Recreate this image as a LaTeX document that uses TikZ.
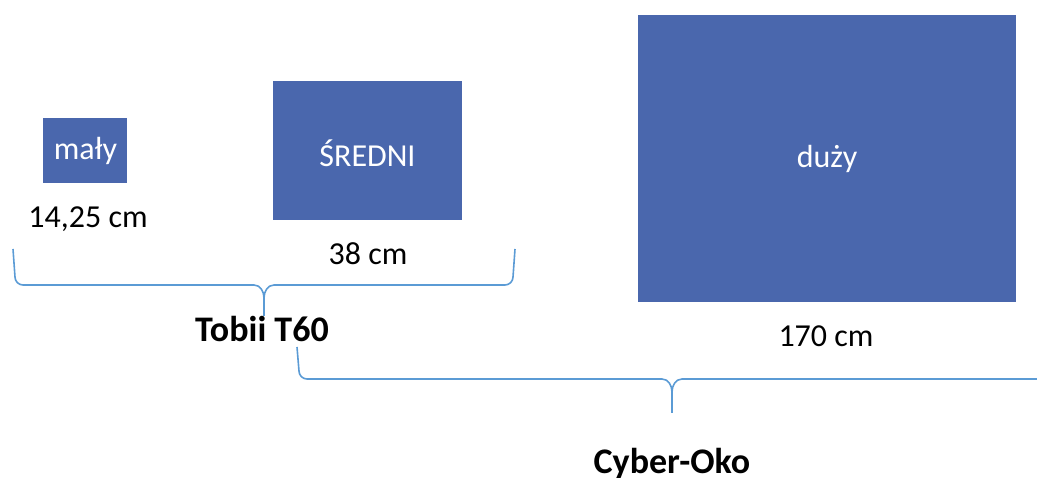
\documentclass[tikz,border=0pt]{standalone}
\usepackage{fontspec}
\setmainfont{Carlito}
\definecolor{boxblue}{HTML}{4A67AD}
\definecolor{braceblue}{HTML}{5B9BD5}
\begin{document}
\begin{tikzpicture}[x=1pt,y=-1pt,
  sizebox/.style={fill=boxblue, draw=none, text=white, font=\fontsize{32}{38}\selectfont},
  dimlabel/.style={anchor=base, inner sep=0pt, font=\fontsize{32}{38}\selectfont},
  grouplabel/.style={anchor=base, inner sep=0pt, font=\fontsize{36}{42}\selectfont\bfseries},
  bracestyle/.style={draw=braceblue, line width=1.6pt, line join=round}]
\useasboundingbox (0,0) rectangle (1037,478);
\clip (0,0) rectangle (1037,478);
% boxes
\fill[boxblue] (43,118) rectangle (127,183);
\node[text=white, font=\fontsize{32}{38}\selectfont, inner sep=0pt] (maly) at (85.5,150.5) {mały};
\fill[boxblue] (273,81) rectangle (462,220);
\node[text=white, font=\fontsize{32}{38}\selectfont, inner sep=0pt] (sredni) at (367.5,153) {ŚREDNI};
\fill[boxblue] (638,15) rectangle (1016,302);
\node[text=white, font=\fontsize{32}{38}\selectfont, inner sep=0pt] (duzy) at (827,158.5) {duży};
% dimension labels
\node[dimlabel] (l1) at (88,228) {14,25 cm};
\node[dimlabel] (l2) at (368,265) {38 cm};
\node[dimlabel] (l3) at (826,347) {170 cm};
% braces
\path[bracestyle] (13,249) -- (15,277) to[out=-90,in=180] (23,285) -- (254,285)
  to[out=0,in=90] (264,298) -- (264,316);
\path[bracestyle] (264,298) to[out=90,in=180] (274,285) -- (505,285)
  to[out=0,in=-90] (513,277) -- (515,249);
\path[bracestyle] (297,347) -- (299,371) to[out=-90,in=180] (307,379) -- (662,379)
  to[out=0,in=90] (672,392) -- (672,413);
\path[bracestyle] (672,392) to[out=90,in=180] (682,379) -- (1037,379)
  to[out=0,in=-90] (1045,371) -- (1047,347);
% group labels
\node[grouplabel] (tobii) at (262,342) {Tobii T60};
\node[grouplabel] (cyber) at (672,473) {Cyber-Oko};
\end{tikzpicture}
\end{document}
